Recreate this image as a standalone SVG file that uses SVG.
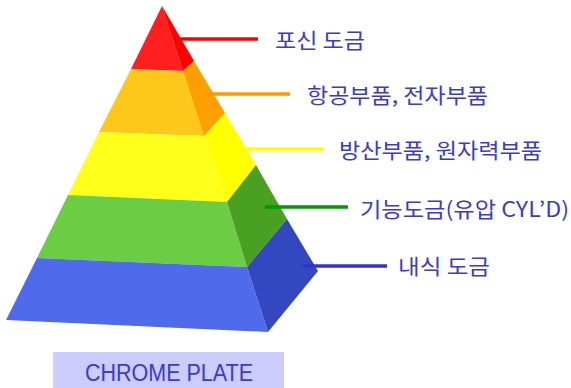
<svg xmlns="http://www.w3.org/2000/svg" width="571" height="388" viewBox="0 0 571 388">
  <style>
    .lbl { font-family: "Noto Sans CJK KR", "Noto Sans", sans-serif; font-size: 21px; fill: #3a3ad0; }
    .lead { stroke-width: 3.5; fill: none; }
    .cap { font-family: "Liberation Sans", Arial, sans-serif; font-size: 23px; fill: #3a3ad0; }
  </style>
  <rect width="571" height="388" fill="#ffffff"/>

  <!-- pyramid: each band is a front face and a right face -->
  <g id="band-red">
    <polygon points="162,6 131,69 183,71" fill="#ff1f1f"/>
    <polygon points="162,6 183,71 194,61" fill="#ff0000"/>
  </g>
  <g id="band-orange">
    <polygon points="131,69 99,132 204,136 183,71" fill="#ffc61c"/>
    <polygon points="183,71 204,136 225,113 194,61" fill="#ff9f00"/>
  </g>
  <g id="band-yellow">
    <polygon points="99,132 68,195 227,202 204,136" fill="#ffff1c"/>
    <polygon points="204,136 227,202 256,165 225,113" fill="#ffff00"/>
  </g>
  <g id="band-green">
    <polygon points="68,195 37,258 247,267 227,202" fill="#6acd44"/>
    <polygon points="227,202 247,267 287,219 256,165" fill="#4aa022"/>
  </g>
  <g id="band-blue">
    <polygon points="37,258 6,320 268,332 247,267" fill="#4f6aeb"/>
    <polygon points="247,267 268,332 318,271 287,219" fill="#3347c0"/>
  </g>

  <!-- leader lines -->
  <g id="connectors">
    <line class="lead" x1="180" y1="39" x2="258" y2="39" stroke="#ff0000"/>
    <line class="lead" x1="208" y1="94" x2="290" y2="94" stroke="#ff9900"/>
    <line class="lead" x1="245" y1="149" x2="323" y2="149" stroke="#ffff00"/>
    <line class="lead" x1="265" y1="207" x2="348" y2="207" stroke="#009900"/>
    <line class="lead" x1="303" y1="266" x2="387" y2="266" stroke="#3333cc"/>
  </g>

  <!-- labels -->
  <g id="label-1"><text class="lbl" x="275" y="48" textLength="90" lengthAdjust="spacingAndGlyphs">포신 도금</text></g>
  <g id="label-2"><text class="lbl" x="307" y="103" textLength="181" lengthAdjust="spacingAndGlyphs">항공부품, 전자부품</text></g>
  <g id="label-3"><text class="lbl" x="339" y="158" textLength="203" lengthAdjust="spacingAndGlyphs">방산부품, 원자력부품</text></g>
  <g id="label-4"><text class="lbl" x="360" y="217" textLength="209" lengthAdjust="spacingAndGlyphs">기능도금(유압 CYL’D)</text></g>
  <g id="label-5"><text class="lbl" x="398" y="274" textLength="92" lengthAdjust="spacingAndGlyphs">내식 도금</text></g>

  <!-- caption -->
  <g id="caption">
    <rect x="53" y="352" width="231" height="36" fill="#ccccff"/>
    <text class="cap" x="85" y="381" textLength="168" lengthAdjust="spacingAndGlyphs">CHROME  PLATE</text>
  </g>
</svg>
